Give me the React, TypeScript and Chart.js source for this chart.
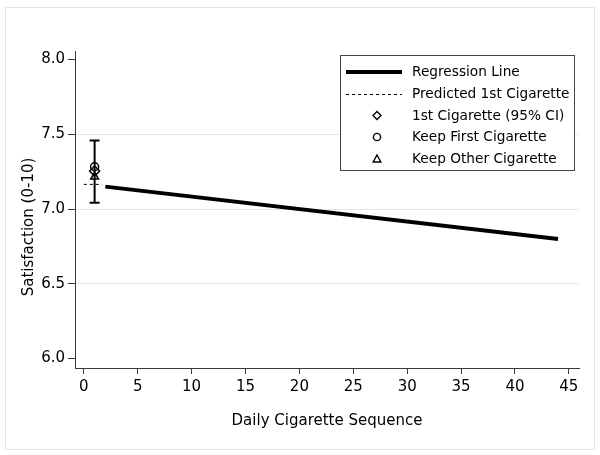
import React, { useEffect, useRef } from "react";
import { Chart, registerables } from "chart.js";

Chart.register(...registerables);

// ---- data ----
const regX = [2, 44];
const regY = [7.15, 6.8];
const predX = [0, 1.7];
const predY = [7.165, 7.165];
const ciX = [1];
const ciLow = [7.042];
const ciHigh = [7.459];
const firstCigX = [1];
const firstCigY = [7.254];
const keepFirstX = [1];
const keepFirstY = [7.283];
const keepOtherX = [1];
const keepOtherY = [7.216];
const yTicks = [6.0, 6.5, 7.0, 7.5, 8.0];
const xTicks = [0, 5, 10, 15, 20, 25, 30, 35, 40, 45];
const legendLabels = [
  "Regression Line",
  "Predicted 1st Cigarette",
  "1st Cigarette (95% CI)",
  "Keep First Cigarette",
  "Keep Other Cigarette",
];
const xTitle = "Daily Cigarette Sequence";
const yTitle = "Satisfaction (0-10)";

const FONT = "'DejaVu Sans', sans-serif";
const AXIS = "#3a3a3a";

const toPts = (xs: number[], ys: number[]) => xs.map((x, i) => ({ x, y: ys[i] }));

export default function App() {
  const ref = useRef<HTMLCanvasElement>(null);

  useEffect(() => {
    document.body.style.margin = "0";
    const canvas = ref.current!;

    const framePlugin = {
      id: "frame",
      beforeDraw(chart: any) {
        const c = chart.ctx;
        c.save();
        c.fillStyle = "#fff";
        c.fillRect(0, 0, chart.width, chart.height);
        c.strokeStyle = "#e4e4e4";
        c.lineWidth = 1;
        c.strokeRect(5.5, 7.5, 589, 442);
        c.restore();
      },
    };

    const errPlugin = {
      id: "errbar",
      beforeDatasetsDraw(chart: any) {
        const c = chart.ctx;
        const xs = chart.scales.x;
        const ys = chart.scales.y;
        c.save();
        c.strokeStyle = "#000";
        c.lineWidth = 2;
        ciX.forEach((x, i) => {
          const px = xs.getPixelForValue(x);
          const lo = ys.getPixelForValue(ciLow[i]);
          const hi = ys.getPixelForValue(ciHigh[i]);
          c.beginPath();
          c.moveTo(px, lo);
          c.lineTo(px, hi);
          c.moveTo(px - 5, lo);
          c.lineTo(px + 5, lo);
          c.moveTo(px - 5, hi);
          c.lineTo(px + 5, hi);
          c.stroke();
        });
        c.restore();
      },
    };

    const legendPlugin = {
      id: "customLegend",
      afterDraw(chart: any) {
        const c = chart.ctx;
        c.save();
        // titles
        c.fillStyle = "#000";
        c.font = `15px ${FONT}`;
        c.textAlign = "center";
        c.textBaseline = "middle";
        c.fillText(xTitle, 327, 421);
        c.save();
        c.translate(29, 227);
        c.rotate(-Math.PI / 2);
        c.fillText(yTitle, 0, 0);
        c.restore();

        // legend box
        c.strokeStyle = "#444";
        c.lineWidth = 1;
        c.fillStyle = "#fff";
        c.fillRect(340.5, 55.5, 234, 115);
        c.strokeRect(340.5, 55.5, 234, 115);
        const rows = [72, 94, 115.5, 137, 159];
        const x0 = 346;
        const x1 = 402;
        const mx = 377;
        c.strokeStyle = "#000";
        // regression
        c.lineWidth = 4;
        c.beginPath();
        c.moveTo(x0, rows[0]);
        c.lineTo(x1, rows[0]);
        c.stroke();
        // predicted
        c.lineWidth = 1;
        c.setLineDash([3, 3]);
        c.beginPath();
        c.moveTo(x0, rows[1] + 0.5);
        c.lineTo(x1, rows[1] + 0.5);
        c.stroke();
        c.setLineDash([]);
        // diamond
        c.lineWidth = 1.4;
        const r = 4;
        c.beginPath();
        c.moveTo(mx, rows[2] - r);
        c.lineTo(mx + r, rows[2]);
        c.lineTo(mx, rows[2] + r);
        c.lineTo(mx - r, rows[2]);
        c.closePath();
        c.stroke();
        // circle
        c.beginPath();
        c.arc(mx, rows[3], 3.6, 0, Math.PI * 2);
        c.stroke();
        // triangle
        c.beginPath();
        c.moveTo(mx, rows[4] - 4);
        c.lineTo(mx + 3.8, rows[4] + 3);
        c.lineTo(mx - 3.8, rows[4] + 3);
        c.closePath();
        c.stroke();
        // labels
        c.fillStyle = "#000";
        c.font = `13.7px ${FONT}`;
        c.textAlign = "left";
        c.textBaseline = "middle";
        legendLabels.forEach((t, i) => c.fillText(t, 412, rows[i] + 0.5));
        c.restore();
      },
    };

    const chart = new Chart(canvas, {
      type: "scatter",
      data: {
        datasets: [
          {
            label: legendLabels[0],
            data: toPts(regX, regY),
            showLine: true,
            borderColor: "#000",
            borderWidth: 4,
            pointRadius: 0,
            borderCapStyle: "butt",
          },
          {
            label: legendLabels[1],
            data: toPts(predX, predY),
            showLine: true,
            borderColor: "#000",
            borderWidth: 1,
            borderDash: [3, 3],
            pointRadius: 0,
          },
          {
            label: legendLabels[2],
            data: toPts(firstCigX, firstCigY),
            pointStyle: "rectRot",
            pointRadius: 5,
            borderColor: "#000",
            borderWidth: 1.5,
            backgroundColor: "rgba(0,0,0,0)",
          },
          {
            label: legendLabels[3],
            data: toPts(keepFirstX, keepFirstY),
            pointStyle: "circle",
            pointRadius: 4,
            borderColor: "#000",
            borderWidth: 1.5,
            backgroundColor: "rgba(0,0,0,0)",
          },
          {
            label: legendLabels[4],
            data: toPts(keepOtherX, keepOtherY),
            pointStyle: "triangle",
            pointRadius: 4.5,
            borderColor: "#000",
            borderWidth: 1.5,
            backgroundColor: "rgba(0,0,0,0)",
          },
        ],
      },
      options: {
        responsive: false,
        animation: false,
        events: [],
        layout: { padding: { top: 51, right: 21, left: 0, bottom: 0 } },
        plugins: {
          legend: { display: false },
          tooltip: { enabled: false },
          title: { display: false },
        },
        scales: {
          x: {
            type: "linear",
            min: -0.82,
            max: 45.94,
            afterBuildTicks: (s: any) => {
              s.ticks = xTicks.map((v) => ({ value: v }));
            },
            afterFit: (s: any) => {
              s.height = 87;
            },
            ticks: {
              font: { family: FONT, size: 15 },
              color: "#000",
              padding: 4,
              maxRotation: 0,
              autoSkip: false,
              callback: (v: any) => String(v),
            },
            grid: {
              drawOnChartArea: false,
              drawTicks: true,
              tickLength: 6,
              tickColor: AXIS,
            },
            border: { display: true, color: AXIS, width: 1 },
            title: { display: false },
          },
          y: {
            type: "linear",
            min: 5.937,
            max: 8.057,
            afterBuildTicks: (s: any) => {
              s.ticks = yTicks.map((v) => ({ value: v }));
            },
            afterFit: (s: any) => {
              s.width = 75;
            },
            ticks: {
              font: { family: FONT, size: 15 },
              color: "#000",
              padding: 3,
              autoSkip: false,
              callback: (v: any) => Number(v).toFixed(1),
            },
            grid: {
              drawOnChartArea: true,
              drawTicks: true,
              tickLength: 7,
              tickColor: AXIS,
              color: (ctx: any) => {
                const v = ctx.tick ? ctx.tick.value : null;
                return v === 6 || v === 8 ? "rgba(0,0,0,0)" : "#e6e6e6";
              },
            },
            border: { display: true, color: AXIS, width: 1 },
            title: { display: false },
          },
        },
      },
      plugins: [framePlugin, errPlugin, legendPlugin],
    } as any);

    return () => chart.destroy();
  }, []);

  return (
    <div style={{ width: 600, height: 455 }}>
      <canvas ref={ref} width={600} height={455} style={{ width: 600, height: 455, display: "block" }} />
    </div>
  );
}
